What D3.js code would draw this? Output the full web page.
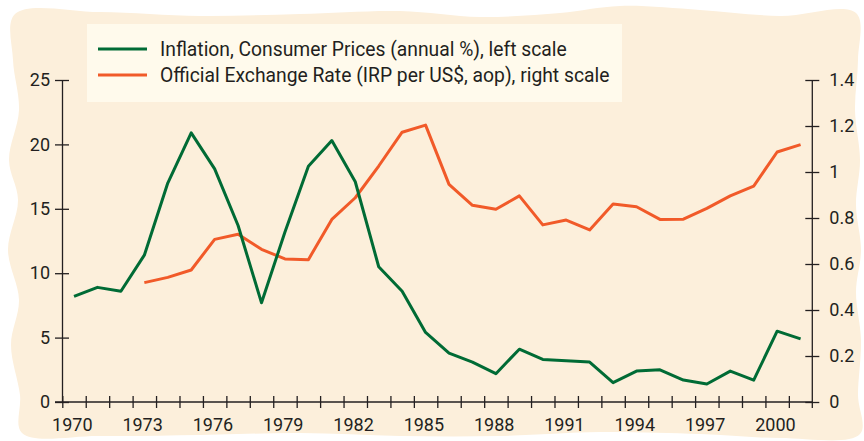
<!DOCTYPE html>
<html>
<head>
<meta charset="utf-8">
<script src="https://cdn.jsdelivr.net/npm/d3@7"></script>
<style>
  body { margin: 0; background: #fff; }
  text { font-family: Roboto, "Noto Sans", sans-serif; fill: #231f20; }
</style>
</head>
<body>
<div id="chart"></div>
<script>
// years and the two series
const years = d3.range(1970, 2002);
const inflation = [8.2, 8.9, 8.6, 11.4, 17.0, 20.9, 18.1, 13.7, 7.7, 13.2, 18.3, 20.3, 17.1, 10.5, 8.6,
  5.4, 3.8, 3.1, 2.2, 4.1, 3.3, 3.2, 3.1, 1.5, 2.4, 2.5, 1.7, 1.4, 2.4, 1.7, 5.5, 4.9];
const rateYears = d3.range(1973, 2002);
const exchangeRate = [0.519, 0.542, 0.574, 0.707, 0.729, 0.664, 0.622, 0.619, 0.794, 0.888, 1.026, 1.173,
  1.204, 0.946, 0.855, 0.838, 0.896, 0.770, 0.791, 0.748, 0.861, 0.849, 0.794, 0.795, 0.842, 0.896, 0.939, 1.087, 1.119];
const leftTicks = [0, 5, 10, 15, 20, 25];
const rightTicks = [0, 0.2, 0.4, 0.6, 0.8, 1, 1.2, 1.4];
const legendLabels = ["Inflation, Consumer Prices (annual %), left scale",
  "Official Exchange Rate (IRP per US$, aop), right scale"];

const W = 864, H = 441;
const margin = {top: 80, right: 52, bottom: 39, left: 62};
const green = "#006b35", orange = "#f15a29", ink = "#231f20";

const svg = d3.select("#chart").append("svg")
    .attr("width", W).attr("height", H);

// wavy paper background
const edge = [[15,14],[100,12],[200,16],[300,14],[400,11],[480,17],[560,13],[620,6],[700,10],[780,16],[856,13],
  [858,60],[855,110],[860,160],[856,205],[861,250],[856,292],[861,340],[858,395],[860,434],
  [780,438],[700,434],[600,432],[500,436],[400,436],[300,433],[200,435],[100,436],[22,433],
  [20,395],[11,345],[19,300],[8,250],[18,200],[9,160],[19,110],[13,60]];
svg.append("path")
    .attr("d", d3.line().curve(d3.curveCatmullRomClosed)(edge))
    .attr("fill", "#fcefdb");

const g = svg.append("g").attr("transform", `translate(${margin.left},${margin.top})`);
const width = W - margin.left - margin.right;
const height = H - margin.top - margin.bottom;

const x = d3.scaleLinear().domain([1970, 2002]).range([0.3, width + 0.3]);
const yL = d3.scaleLinear().domain([0, 25]).range([height, 0]);
const yR = d3.scaleLinear().domain([0, 1.4]).range([height, 0]);

// legend box
const legend = svg.append("g");
legend.append("rect").attr("x", 87).attr("y", 24).attr("width", 535).attr("height", 78).attr("fill", "#fffaec");
[green, orange].forEach((c, i) => {
  legend.append("line").attr("x1", 98).attr("x2", 147).attr("y1", 49 + i * 26).attr("y2", 49 + i * 26)
      .attr("stroke", c).attr("stroke-width", 3);
  legend.append("text").attr("x", 160).attr("y", 56 + i * 26).style("font-size", "19.3px").text(legendLabels[i]);
});

// axes
const xAxis = g.append("g").attr("transform", `translate(0,${height})`)
    .call(d3.axisBottom(x).tickValues(years).tickSize(6).tickSizeOuter(0).tickPadding(10)
      .tickFormat(d => (d - 1970) % 3 === 0 ? d : ""));
xAxis.selectAll(".tick line").attr("y1", -6);
xAxis.selectAll(".tick text").attr("dx", 9.5);
xAxis.select(".domain").attr("d", `M-7,0H${width + 0.3}`);

const yAxisL = g.append("g")
    .call(d3.axisLeft(yL).tickValues(leftTicks).tickSize(7).tickSizeOuter(0).tickPadding(5));
yAxisL.selectAll(".tick line").attr("x1", 7);

const yAxisR = g.append("g").attr("transform", `translate(${width + 0.3},0)`)
    .call(d3.axisRight(yR).tickValues(rightTicks).tickSize(7).tickSizeOuter(0).tickPadding(10)
      .tickFormat(d => String(d)));
yAxisR.selectAll(".tick line").attr("x1", -7);
yAxisR.select(".domain").attr("d", `M0,0V${height + 6}`);

g.selectAll(".domain, .tick line").attr("stroke", ink).attr("stroke-width", 1.3);
g.selectAll(".tick text").style("font-size", "18px").attr("fill", ink);

// lines, points sit mid-year
const lineL = d3.line().x((d, i) => x(years[i] + 0.5)).y(d => yL(d));
const lineR = d3.line().x((d, i) => x(rateYears[i] + 0.5)).y(d => yR(d));

g.append("path").datum(exchangeRate).attr("d", lineR)
    .attr("fill", "none").attr("stroke", orange).attr("stroke-width", 3).attr("stroke-linejoin", "round");
g.append("path").datum(inflation).attr("d", lineL)
    .attr("fill", "none").attr("stroke", green).attr("stroke-width", 3).attr("stroke-linejoin", "round");
</script>
</body>
</html>
